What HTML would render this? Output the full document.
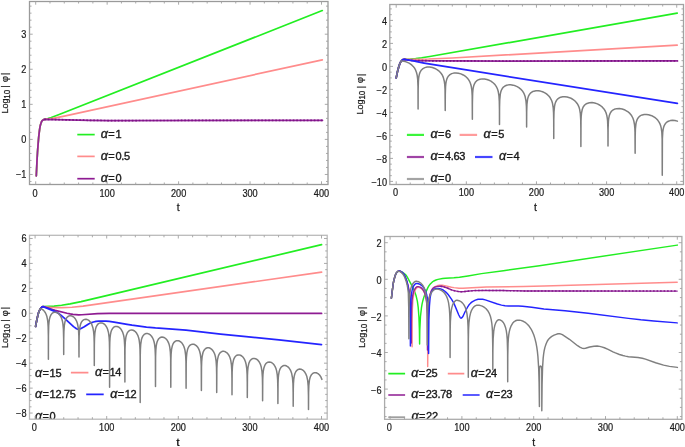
<!DOCTYPE html>
<html><head><meta charset="utf-8"><style>
html,body{margin:0;padding:0;background:#fff;}
svg{display:block;will-change:transform;}
text{font-family:"Liberation Sans", sans-serif;}
.lg{stroke:#1c1c1c;stroke-width:0.38px;}
.tk{stroke:#1c1c1c;stroke-width:0.22px;}
.ax{stroke:#1c1c1c;stroke-width:0.25px;}
</style></head><body>
<svg width="685" height="447" viewBox="0 0 685 447" font-family='"Liberation Sans", sans-serif' fill="#1c1c1c">
<rect width="685" height="447" fill="#fff"/>
<path d="M77.3 134.6H94.7" stroke="#22ee22" stroke-width="1.7"/><text x="100.8" y="137.8" font-size="11" class="lg"><tspan font-style="italic" font-size="12.5">α</tspan><tspan dx="0.4">=</tspan><tspan dx="0.6" letter-spacing="-0.3">1</tspan></text>
<path d="M77.3 156.4H94.7" stroke="#ff8c8c" stroke-width="1.7"/><text x="100.8" y="159.6" font-size="11" class="lg"><tspan font-style="italic" font-size="12.5">α</tspan><tspan dx="0.4">=</tspan><tspan dx="0.6" letter-spacing="-0.3">0.5</tspan></text>
<path d="M77.3 178.7H94.7" stroke="#8e1b92" stroke-width="1.7"/><text x="100.8" y="181.9" font-size="11" class="lg"><tspan font-style="italic" font-size="12.5">α</tspan><tspan dx="0.4">=</tspan><tspan dx="0.6" letter-spacing="-0.3">0</tspan></text>
<path d="M406.9 134.9H424" stroke="#3cf53c" stroke-width="2.2"/><text x="430.4" y="138.1" font-size="11" class="lg"><tspan font-style="italic" font-size="12.5">α</tspan><tspan dx="0.4">=</tspan><tspan dx="0.6" letter-spacing="-0.3">6</tspan></text>
<path d="M459.6 134.9H477.1" stroke="#ff9c9c" stroke-width="2.2"/><text x="483.6" y="138.1" font-size="11" class="lg"><tspan font-style="italic" font-size="12.5">α</tspan><tspan dx="0.4">=</tspan><tspan dx="0.6" letter-spacing="-0.3">5</tspan></text>
<path d="M406.9 157H424" stroke="#a044a6" stroke-width="2.2"/><text x="430.4" y="160.2" font-size="11" class="lg"><tspan font-style="italic" font-size="12.5">α</tspan><tspan dx="0.4">=</tspan><tspan dx="0.6" letter-spacing="-0.3">4.63</tspan></text>
<path d="M475 157H492.5" stroke="#4646ff" stroke-width="2.2"/><text x="498.9" y="160.2" font-size="11" class="lg"><tspan font-style="italic" font-size="12.5">α</tspan><tspan dx="0.4">=</tspan><tspan dx="0.6" letter-spacing="-0.3">4</tspan></text>
<path d="M406.9 179H424" stroke="#a4a4a4" stroke-width="2.2"/><text x="430.4" y="182.2" font-size="11" class="lg"><tspan font-style="italic" font-size="12.5">α</tspan><tspan dx="0.4">=</tspan><tspan dx="0.6" letter-spacing="-0.3">0</tspan></text>
<clipPath id="cb"><rect x="0" y="0" width="685" height="419.2"/></clipPath><g clip-path="url(#cb)">
<text x="35" y="376.6" font-size="11" class="lg"><tspan font-style="italic" font-size="12.5">α</tspan><tspan dx="0.4">=</tspan><tspan dx="0.6" letter-spacing="-0.3">15</tspan></text>
<path d="M70.9 372.7H88.4" stroke="#ff8c8c" stroke-width="1.7"/><text x="94.9" y="375.9" font-size="11" class="lg"><tspan font-style="italic" font-size="12.5">α</tspan><tspan dx="0.4">=</tspan><tspan dx="0.6" letter-spacing="-0.3">14</tspan></text>
<text x="35" y="397.8" font-size="11" class="lg"><tspan font-style="italic" font-size="12.5">α</tspan><tspan dx="0.4">=</tspan><tspan dx="0.6" letter-spacing="-0.3">12.75</tspan></text>
<path d="M86.2 394.4H103.7" stroke="#2424ff" stroke-width="1.7"/><text x="110.2" y="397.6" font-size="11" class="lg"><tspan font-style="italic" font-size="12.5">α</tspan><tspan dx="0.4">=</tspan><tspan dx="0.6" letter-spacing="-0.3">12</tspan></text>
<text x="35" y="419.8" font-size="11" class="lg"><tspan font-style="italic" font-size="12.5">α</tspan><tspan dx="0.4">=</tspan><tspan dx="0.6" letter-spacing="-0.3">0</tspan></text>
<path d="M388.3 373.6H405.1" stroke="#22ee22" stroke-width="1.7"/><text x="411.2" y="376.8" font-size="11" class="lg"><tspan font-style="italic" font-size="12.5">α</tspan><tspan dx="0.4">=</tspan><tspan dx="0.6" letter-spacing="-0.3">25</tspan></text>
<path d="M447.8 373.6H464.3" stroke="#ff8c8c" stroke-width="1.7"/><text x="470.7" y="376.8" font-size="11" class="lg"><tspan font-style="italic" font-size="12.5">α</tspan><tspan dx="0.4">=</tspan><tspan dx="0.6" letter-spacing="-0.3">24</tspan></text>
<path d="M388.3 395.1H405.1" stroke="#8e1b92" stroke-width="1.5"/><text x="411.2" y="398.3" font-size="11" class="lg"><tspan font-style="italic" font-size="12.5">α</tspan><tspan dx="0.4">=</tspan><tspan dx="0.6" letter-spacing="-0.3">23.78</tspan></text>
<path d="M462.7 395.1H479.6" stroke="#2424ff" stroke-width="1.5"/><text x="486.1" y="398.3" font-size="11" class="lg"><tspan font-style="italic" font-size="12.5">α</tspan><tspan dx="0.4">=</tspan><tspan dx="0.6" letter-spacing="-0.3">23</tspan></text>
<path d="M388.3 417.1H405.1" stroke="#7f7f7f" stroke-width="1.2"/><text x="411.5" y="420.3" font-size="11" class="lg"><tspan font-style="italic" font-size="12.5">α</tspan><tspan dx="0.4">=</tspan><tspan dx="0.6" letter-spacing="-0.3">22</tspan></text>
</g>
<rect x="29.5" y="1.5" width="298.5" height="183" fill="none" stroke="#9a9a9a" stroke-width="1.3"/>
<path d="M35.7 184.5v-3.2M35.7 1.5v3.2M49.99 184.5v-2M49.99 1.5v2M64.28 184.5v-2M64.28 1.5v2M78.57 184.5v-2M78.57 1.5v2M92.86 184.5v-2M92.86 1.5v2M107.15 184.5v-3.2M107.15 1.5v3.2M121.44 184.5v-2M121.44 1.5v2M135.73 184.5v-2M135.73 1.5v2M150.02 184.5v-2M150.02 1.5v2M164.31 184.5v-2M164.31 1.5v2M178.6 184.5v-3.2M178.6 1.5v3.2M192.89 184.5v-2M192.89 1.5v2M207.18 184.5v-2M207.18 1.5v2M221.47 184.5v-2M221.47 1.5v2M235.76 184.5v-2M235.76 1.5v2M250.05 184.5v-3.2M250.05 1.5v3.2M264.34 184.5v-2M264.34 1.5v2M278.63 184.5v-2M278.63 1.5v2M292.92 184.5v-2M292.92 1.5v2M307.21 184.5v-2M307.21 1.5v2M321.5 184.5v-3.2M321.5 1.5v3.2M29.5 181.48h2M328 181.48h-2M29.5 174.47h3.2M328 174.47h-3.2M29.5 167.46h2M328 167.46h-2M29.5 160.44h2M328 160.44h-2M29.5 153.43h2M328 153.43h-2M29.5 146.41h2M328 146.41h-2M29.5 139.4h3.2M328 139.4h-3.2M29.5 132.39h2M328 132.39h-2M29.5 125.37h2M328 125.37h-2M29.5 118.36h2M328 118.36h-2M29.5 111.34h2M328 111.34h-2M29.5 104.33h3.2M328 104.33h-3.2M29.5 97.32h2M328 97.32h-2M29.5 90.3h2M328 90.3h-2M29.5 83.29h2M328 83.29h-2M29.5 76.27h2M328 76.27h-2M29.5 69.26h3.2M328 69.26h-3.2M29.5 62.25h2M328 62.25h-2M29.5 55.23h2M328 55.23h-2M29.5 48.22h2M328 48.22h-2M29.5 41.2h2M328 41.2h-2M29.5 34.19h3.2M328 34.19h-3.2M29.5 27.18h2M328 27.18h-2M29.5 20.16h2M328 20.16h-2M29.5 13.15h2M328 13.15h-2M29.5 6.13h2M328 6.13h-2" stroke="#a0a0a0" stroke-width="0.9" fill="none"/>
<path d="M36.3 175.9 L37.45 152.75 L38.44 139.94 L39.14 132.89 L39.97 126.98 L40.87 123.47 L41.85 121.15 L42.42 120.46 L43.15 119.95 L44.3 119.3 L47.8 118.55 L51.3 117.46 L59.8 114.25 L322.3 10.57" fill="none" stroke="#22ee22" stroke-width="1.7" stroke-linejoin="round" stroke-linecap="round"/>
<path d="M36.3 175.9 L36.98 160.67 L37.65 149.95 L38.69 137.11 L39.64 129.04 L40.28 125.55 L41.41 121.99 L41.85 121.15 L42.42 120.46 L44.3 119.3 L48.8 118.93 L52.8 118.39 L64.3 116.13 L322.3 59.8" fill="none" stroke="#ff8c8c" stroke-width="1.7" stroke-linejoin="round" stroke-linecap="round"/>
<path d="M36.3 175.9 L36.98 160.67 L37.65 149.95 L38.69 137.11 L39.64 129.04 L40.28 125.55 L41.41 121.99 L41.85 121.15 L42.42 120.46 L44.3 119.3 L89.78 120.34 L108.9 120.56 L322.5 120.3" fill="none" stroke="#93289b" stroke-width="1.7" stroke-linejoin="round" stroke-linecap="round"/>
<path d="M44.3 119.3 L89.78 120.34 L108.9 120.56 L322.5 120.3" fill="none" stroke="#7c1284" stroke-width="1.7" stroke-linejoin="round" stroke-dasharray="1.6 1.9" stroke-linecap="butt"/>
<rect x="389.8" y="4.5" width="293.7" height="180" fill="none" stroke="#a2a2a2" stroke-width="1.3"/>
<path d="M396.2 184.5v-3.2M396.2 4.5v3.2M410.23 184.5v-2M410.23 4.5v2M424.25 184.5v-2M424.25 4.5v2M438.28 184.5v-2M438.28 4.5v2M452.3 184.5v-2M452.3 4.5v2M466.33 184.5v-3.2M466.33 4.5v3.2M480.36 184.5v-2M480.36 4.5v2M494.38 184.5v-2M494.38 4.5v2M508.41 184.5v-2M508.41 4.5v2M522.43 184.5v-2M522.43 4.5v2M536.46 184.5v-3.2M536.46 4.5v3.2M550.49 184.5v-2M550.49 4.5v2M564.51 184.5v-2M564.51 4.5v2M578.54 184.5v-2M578.54 4.5v2M592.56 184.5v-2M592.56 4.5v2M606.59 184.5v-3.2M606.59 4.5v3.2M620.62 184.5v-2M620.62 4.5v2M634.64 184.5v-2M634.64 4.5v2M648.67 184.5v-2M648.67 4.5v2M662.69 184.5v-2M662.69 4.5v2M676.72 184.5v-3.2M676.72 4.5v3.2M389.8 181.4h3.2M683.5 181.4h-3.2M389.8 175.65h2M683.5 175.65h-2M389.8 169.9h2M683.5 169.9h-2M389.8 164.15h2M683.5 164.15h-2M389.8 158.4h3.2M683.5 158.4h-3.2M389.8 152.65h2M683.5 152.65h-2M389.8 146.9h2M683.5 146.9h-2M389.8 141.15h2M683.5 141.15h-2M389.8 135.4h3.2M683.5 135.4h-3.2M389.8 129.65h2M683.5 129.65h-2M389.8 123.9h2M683.5 123.9h-2M389.8 118.15h2M683.5 118.15h-2M389.8 112.4h3.2M683.5 112.4h-3.2M389.8 106.65h2M683.5 106.65h-2M389.8 100.9h2M683.5 100.9h-2M389.8 95.15h2M683.5 95.15h-2M389.8 89.4h3.2M683.5 89.4h-3.2M389.8 83.65h2M683.5 83.65h-2M389.8 77.9h2M683.5 77.9h-2M389.8 72.15h2M683.5 72.15h-2M389.8 66.4h3.2M683.5 66.4h-3.2M389.8 60.65h2M683.5 60.65h-2M389.8 54.9h2M683.5 54.9h-2M389.8 49.15h2M683.5 49.15h-2M389.8 43.4h3.2M683.5 43.4h-3.2M389.8 37.65h2M683.5 37.65h-2M389.8 31.9h2M683.5 31.9h-2M389.8 26.15h2M683.5 26.15h-2M389.8 20.4h3.2M683.5 20.4h-3.2M389.8 14.65h2M683.5 14.65h-2M389.8 8.9h2M683.5 8.9h-2" stroke="#a0a0a0" stroke-width="0.9" fill="none"/>
<path d="M396.2 77.9 L397.52 71.36 L398.71 66.94 L399.6 64.25 L400.3 62.6 L401.06 61.38 L402.18 60.07 L403.13 59.48 L404.2 59.3 L410.2 59.04 L415.7 58.56 L421.7 57.76 L429.7 56.47 L677.2 13.19" fill="none" stroke="#22ee22" stroke-width="1.7" stroke-linejoin="round" stroke-linecap="round"/>
<path d="M396.2 77.9 L397.64 70.91 L398.85 66.48 L399.94 63.38 L400.8 61.76 L402.18 60.07 L402.8 59.6 L404.2 59.3 L428.7 58.98 L452.2 58.01 L677.2 45.2" fill="none" stroke="#ff8c8c" stroke-width="1.7" stroke-linejoin="round" stroke-linecap="round"/>
<path d="M396.2 77.9 L397.64 70.91 L398.85 66.48 L399.94 63.38 L400.8 61.76 L402.18 60.07 L402.8 59.6 L404.2 59.3 L409.34 60.23 L414.18 60.58 L443.58 60.91 L504.77 61.03 L677.5 60.9" fill="none" stroke="#93289b" stroke-width="1.7" stroke-linejoin="round" stroke-linecap="round"/>
<path d="M404.2 59.3 L409.34 60.23 L414.18 60.58 L443.58 60.91 L504.77 61.03 L677.5 60.9" fill="none" stroke="#7c1284" stroke-width="1.7" stroke-linejoin="round" stroke-dasharray="1.6 1.9" stroke-linecap="butt"/>
<path d="M396.2 77.9 L397.64 70.91 L398.85 66.48 L399.94 63.38 L400.8 61.76 L402.18 60.07 L402.8 59.6 L404.2 59.3 L412.3 60.67 L419.19 62.14 L424.09 63.04 L457 68.46 L677.4 103.3" fill="none" stroke="#2424ff" stroke-width="1.7" stroke-linejoin="round" stroke-linecap="round"/>
<path d="M396.2 77.9 L397.3 72.3 L398.85 66.48 L400.12 62.97 L401.6 60.7 L402 61.1 L404.05 61.34 L406.15 61.87 L409.1 63.16 L410.6 64.1 L411.95 65.17 L413.2 66.41 L414.25 67.74 L415.55 69.98 L416.5 72.46 L417.2 75.45 L417.65 78.99 L418 86.55 L418.1 109 L418.15 90.03 L418.4 81.17 L418.65 78.21 L419.05 75.59 L419.55 73.61 L420.25 71.83 L421.45 69.96 L422.95 68.59 L424.85 67.61 L427.1 67.09 L429.65 67.06 L432.35 67.53 L434.95 68.45 L437.4 69.8 L438.75 70.81 L439.95 71.93 L441 73.15 L441.9 74.46 L442.65 75.84 L443.3 77.4 L444.25 80.94 L444.75 84.59 L445.05 89.53 L445.23 110.6 L445.3 94.29 L445.55 86.78 L445.8 83.97 L446.2 81.42 L446.75 79.32 L447.45 77.62 L448.55 75.93 L449.95 74.61 L451.7 73.65 L453.7 73.1 L456 72.94 L458.45 73.22 L460.9 73.9 L463.25 74.96 L464.8 75.92 L466.2 77.02 L467.45 78.26 L468.55 79.65 L469.45 81.12 L470.2 82.72 L470.8 84.45 L471.3 86.47 L471.9 90.74 L472.2 96.05 L472.36 119.3 L472.4 102.99 L472.65 93.19 L472.9 90.16 L473.25 87.76 L473.7 85.83 L474.3 84.14 L475.3 82.35 L476.55 80.96 L478.15 79.88 L480 79.2 L482.15 78.88 L484.5 78.97 L486.9 79.46 L489.25 80.32 L490.95 81.21 L492.5 82.26 L493.9 83.47 L495.15 84.87 L496.2 86.38 L497.05 88 L497.75 89.8 L498.3 91.79 L498.95 95.85 L499.3 101.12 L499.45 108.9 L499.49 124.4 L499.55 106.91 L499.75 99.66 L500.3 94.13 L500.75 92.05 L501.35 90.26 L502.25 88.54 L503.45 87.1 L504.9 86.02 L506.6 85.28 L508.6 84.87 L510.75 84.82 L513.05 85.14 L515.35 85.82 L517.15 86.62 L518.85 87.63 L520.35 88.78 L521.7 90.1 L522.85 91.57 L523.8 93.15 L524.6 94.94 L525.2 96.8 L526 101.08 L526.4 106.31 L526.55 112.04 L526.62 127 L526.7 111.41 L526.95 104.42 L527.55 99.4 L528.05 97.39 L528.65 95.8 L529.6 94.15 L530.8 92.83 L532.25 91.82 L533.95 91.14 L535.95 90.77 L538.1 90.76 L540.35 91.11 L542.6 91.8 L544.45 92.64 L546.15 93.67 L547.7 94.9 L549.05 96.28 L550.2 97.82 L551.15 99.51 L551.9 101.33 L552.5 103.39 L553.2 107.61 L553.55 112.72 L553.7 119.64 L553.75 138.4 L553.8 119.67 L554 111.71 L554.5 106.36 L554.95 104.13 L555.5 102.39 L556.4 100.57 L557.55 99.11 L559 97.97 L560.7 97.18 L562.7 96.74 L564.9 96.67 L567.2 96.98 L569.55 97.66 L571.45 98.5 L573.2 99.54 L574.75 100.75 L576.15 102.18 L577.3 103.7 L578.25 105.38 L579.05 107.32 L579.65 109.4 L580.35 113.73 L580.7 119.17 L580.85 128.12 L580.88 146.5 L581 121.26 L581.2 116.42 L581.55 112.83 L582.3 109.27 L582.8 107.9 L583.4 106.71 L584.15 105.63 L585 104.74 L585.95 104.01 L587.05 103.42 L589.35 102.74 L591.95 102.59 L594.7 102.99 L597.45 103.89 L599.95 105.22 L602.15 106.93 L603.95 108.94 L605.35 111.25 L606.15 113.16 L606.8 115.42 L607.25 117.82 L607.6 120.96 L607.95 130.59 L608.01 146.1 L608.1 128.61 L608.4 121.38 L608.75 118.28 L609.25 115.83 L609.9 113.9 L610.8 112.21 L611.5 111.3 L612.3 110.52 L613.2 109.86 L614.25 109.31 L616.6 108.65 L619.3 108.53 L622.2 109.01 L625.05 110.03 L627.65 111.53 L629.85 113.42 L631.55 115.55 L632.85 117.98 L633.8 120.81 L634.45 124.24 L634.8 127.83 L635 132.29 L635.14 153.3 L635.2 136.54 L635.4 129.3 L635.95 123.77 L636.4 121.69 L637 119.9 L637.9 118.18 L639.1 116.74 L640.5 115.69 L642.2 114.93 L644.15 114.52 L646.3 114.45 L648.55 114.75 L650.85 115.41 L652.9 116.31 L654.75 117.44 L656.4 118.77 L657.85 120.33 L659.05 122.07 L660 123.95 L660.75 126.08 L661.3 128.42 L661.85 132.69 L662.15 138.99 L662.27 175.2 L662.4 138.64 L662.75 132.23 L663.1 129.58 L663.55 127.54 L664.35 125.33 L665.4 123.59 L666.75 122.22 L668.35 121.24 L670.3 120.6 L672.55 120.36 L674.95 120.55 L677.4 121.14" fill="none" stroke="#7f7f7f" stroke-width="1.5" stroke-linejoin="round" stroke-linecap="round"/>
<rect x="29.5" y="235.3" width="297.7" height="183.9" fill="none" stroke="#bababa" stroke-width="1.3"/>
<path d="M35.1 419.2v-3.2M35.1 235.3v3.2M49.42 419.2v-2M49.42 235.3v2M63.74 419.2v-2M63.74 235.3v2M78.06 419.2v-2M78.06 235.3v2M92.38 419.2v-2M92.38 235.3v2M106.7 419.2v-3.2M106.7 235.3v3.2M121.02 419.2v-2M121.02 235.3v2M135.34 419.2v-2M135.34 235.3v2M149.66 419.2v-2M149.66 235.3v2M163.98 419.2v-2M163.98 235.3v2M178.3 419.2v-3.2M178.3 235.3v3.2M192.62 419.2v-2M192.62 235.3v2M206.94 419.2v-2M206.94 235.3v2M221.26 419.2v-2M221.26 235.3v2M235.58 419.2v-2M235.58 235.3v2M249.9 419.2v-3.2M249.9 235.3v3.2M264.22 419.2v-2M264.22 235.3v2M278.54 419.2v-2M278.54 235.3v2M292.86 419.2v-2M292.86 235.3v2M307.18 419.2v-2M307.18 235.3v2M321.5 419.2v-3.2M321.5 235.3v3.2M29.5 413.06h3.2M327.2 413.06h-3.2M29.5 406.83h2M327.2 406.83h-2M29.5 400.59h2M327.2 400.59h-2M29.5 394.36h2M327.2 394.36h-2M29.5 388.12h3.2M327.2 388.12h-3.2M29.5 381.88h2M327.2 381.88h-2M29.5 375.65h2M327.2 375.65h-2M29.5 369.42h2M327.2 369.42h-2M29.5 363.18h3.2M327.2 363.18h-3.2M29.5 356.94h2M327.2 356.94h-2M29.5 350.71h2M327.2 350.71h-2M29.5 344.48h2M327.2 344.48h-2M29.5 338.24h3.2M327.2 338.24h-3.2M29.5 332h2M327.2 332h-2M29.5 325.77h2M327.2 325.77h-2M29.5 319.54h2M327.2 319.54h-2M29.5 313.3h3.2M327.2 313.3h-3.2M29.5 307.06h2M327.2 307.06h-2M29.5 300.83h2M327.2 300.83h-2M29.5 294.6h2M327.2 294.6h-2M29.5 288.36h3.2M327.2 288.36h-3.2M29.5 282.12h2M327.2 282.12h-2M29.5 275.89h2M327.2 275.89h-2M29.5 269.66h2M327.2 269.66h-2M29.5 263.42h3.2M327.2 263.42h-3.2M29.5 257.19h2M327.2 257.19h-2M29.5 250.95h2M327.2 250.95h-2M29.5 244.72h2M327.2 244.72h-2M29.5 238.48h3.2M327.2 238.48h-3.2" stroke="#a0a0a0" stroke-width="0.9" fill="none"/>
<path d="M35.6 326.5 L36.2 323 L37.5 316.85 L38.73 312.23 L39.64 310.1 L40.69 308.36 L41.64 307.25 L42.42 306.77 L43.1 306.6 L54.1 306.04 L61.6 305.23 L70.1 303.84 L81.1 301.55 L108.6 295.15 L321.6 244.67" fill="none" stroke="#22ee22" stroke-width="1.7" stroke-linejoin="round" stroke-linecap="round"/>
<path d="M35.6 326.5 L36.2 323 L37.6 316.41 L38.23 313.83 L38.86 311.86 L39.82 309.76 L40.94 308.01 L42.1 306.9 L43.1 306.6 L52.62 307.48 L57.47 307.69 L62.12 307.72 L72.04 307.24 L83.03 306.15 L321.6 272.1" fill="none" stroke="#ff8c8c" stroke-width="1.7" stroke-linejoin="round" stroke-linecap="round"/>
<path d="M35.6 326.5 L36.2 323 L37.6 316.41 L38.23 313.83 L38.86 311.86 L39.82 309.76 L40.94 308.01 L42.1 306.9 L43.1 306.6 L47.55 307.74 L52.61 309.58 L55.23 310.4 L67.01 313.25 L70.25 313.92 L72.92 314.33 L78.74 314.79 L81.91 314.74 L97.58 313.69 L109.12 313.45 L165.04 313.33 L321.6 313.4" fill="none" stroke="#8e1b92" stroke-width="1.7" stroke-linejoin="round" stroke-linecap="round"/>
<path d="M35.6 326.5 L36.2 323 L37.6 316.41 L38.23 313.83 L38.86 311.86 L39.82 309.76 L40.94 308.01 L42.1 306.9 L43.1 306.6 L54.75 311.38 L56.74 312.34 L58.13 313.17 L60.3 314.72 L64.03 317.81 L73.54 326.63 L76.49 328.71 L77.83 329.24 L79.18 329.21 L80.57 328.72 L84.26 326.72 L88.55 323.93 L90.91 322.85 L93.39 321.99 L96.01 321.42 L98.72 321.12 L102.13 321 L105.98 321.09 L109.25 321.39 L114.1 322.04 L127.12 324.42 L131.98 325.2 L146.45 327.08 L155.46 327.9 L179.2 329.53 L186.01 330.12 L220.62 334.11 L246.13 336.71 L278.91 339.79 L305.9 342.94 L321.5 344.6" fill="none" stroke="#2424ff" stroke-width="1.7" stroke-linejoin="round" stroke-linecap="round"/>
<path d="M35.6 326.5 L36.3 322.52 L38 314.7 L38.73 312.23 L40.2 308.63 L41.1 308.82 L41.95 309.17 L43.6 310.38 L45.05 312.2 L46.2 314.51 L46.95 316.85 L47.5 319.53 L47.9 322.8 L48.15 326.63 L48.35 335.45 L48.4 359.2 L48.45 335.47 L48.7 325.77 L49 322.07 L49.45 319.15 L50.1 316.75 L50.95 314.87 L52.1 313.4 L53.5 312.47 L54.3 312.23 L55.1 312.16 L56.75 312.5 L58.35 313.45 L59.75 314.89 L60.95 316.83 L61.9 319.19 L62.45 321.24 L62.85 323.4 L63.4 329.18 L63.65 339.01 L63.7 354.5 L63.75 339.03 L63.9 331.51 L64.3 325.63 L65 321.63 L65.6 319.77 L66.35 318.26 L67.25 317.1 L68.25 316.31 L69.45 315.82 L70.7 315.74 L72 316.04 L73.3 316.74 L74.2 317.49 L75.05 318.45 L76.45 320.8 L77.5 323.77 L78.2 327.3 L78.6 331.15 L78.85 336.55 L79 356.9 L79.05 342.59 L79.2 335.07 L79.6 329.18 L80.3 325.18 L80.9 323.33 L81.6 321.9 L82.5 320.71 L83.5 319.89 L84.65 319.4 L85.9 319.29 L87.2 319.56 L88.45 320.2 L89.4 320.95 L90.3 321.94 L91.1 323.12 L91.8 324.47 L92.9 327.72 L93.6 331.6 L94 336.3 L94.2 342.33 L94.3 365.5 L94.35 346.14 L94.5 338.62 L94.85 333.2 L95.5 329.14 L96.1 327.14 L96.9 325.46 L97.85 324.21 L98.95 323.36 L100.25 322.9 L101.6 322.89 L103 323.32 L104.3 324.16 L105.25 325.08 L106.15 326.27 L106.95 327.7 L107.6 329.27 L108.55 332.89 L109.15 337.62 L109.4 342.09 L109.55 349.68 L109.6 387.2 L109.65 349.7 L109.8 342.18 L110.05 337.82 L110.4 334.79 L110.95 332.11 L111.65 330.09 L112.8 328.16 L113.5 327.44 L114.3 326.89 L115.15 326.55 L116.05 326.4 L116.95 326.45 L117.9 326.71 L118.8 327.15 L119.7 327.8 L121.25 329.53 L122.5 331.81 L123.45 334.64 L123.95 337.01 L124.35 340.06 L124.75 347.22 L124.9 381.9 L125 349.49 L125.3 342.01 L125.9 337.19 L126.45 334.98 L127.15 333.22 L128.05 331.78 L129.15 330.73 L130.4 330.12 L131.75 329.96 L133.15 330.25 L134.55 331.01 L135.6 331.92 L136.55 333.09 L137.4 334.52 L138.1 336.11 L138.7 338 L139.15 340.01 L139.75 344.73 L140 349.2 L140.15 356.79 L140.2 402.4 L140.25 356.81 L140.4 349.3 L140.7 344.38 L141.4 339.82 L141.9 338.09 L142.55 336.58 L143.3 335.4 L144.2 334.48 L145.25 333.84 L146.35 333.54 L147.7 333.59 L149.05 334.07 L150.35 334.96 L151.55 336.24 L152.55 337.79 L153.35 339.54 L154.05 341.75 L154.55 344.13 L155.1 348.94 L155.4 356.56 L155.5 386.5 L155.6 356.61 L155.8 350.67 L156.2 346.16 L156.55 344.05 L157 342.26 L157.55 340.76 L158.2 339.53 L159 338.5 L159.9 337.74 L160.9 337.26 L161.95 337.07 L163.25 337.21 L164.55 337.74 L165.8 338.65 L166.9 339.86 L167.85 341.34 L168.65 343.1 L169.3 345.12 L169.8 347.4 L170.35 351.84 L170.65 357.9 L170.8 387.2 L170.9 360.16 L171.1 354.22 L171.55 349.35 L172.35 345.65 L172.9 344.2 L173.55 343.01 L174.3 342.05 L175.2 341.3 L176.2 340.82 L177.25 340.63 L178.55 340.76 L179.8 341.27 L181.05 342.16 L182.15 343.35 L183.1 344.81 L183.9 346.52 L184.55 348.49 L185.05 350.68 L185.65 355.4 L185.95 361.45 L186.1 388.3 L186.2 363.72 L186.4 357.78 L186.85 352.91 L187.65 349.21 L188.2 347.76 L188.85 346.57 L189.6 345.61 L190.5 344.86 L191.45 344.39 L192.5 344.19 L193.8 344.31 L195.05 344.8 L196.25 345.63 L197.35 346.78 L198.3 348.19 L199.1 349.83 L199.75 351.7 L200.3 353.98 L200.9 358.38 L201.25 365.01 L201.4 390.4 L201.5 367.28 L201.7 361.34 L202.15 356.47 L202.95 352.77 L203.5 351.32 L204.1 350.2 L204.85 349.22 L205.7 348.48 L206.65 347.99 L207.7 347.75 L208.95 347.83 L210.25 348.3 L211.45 349.1 L212.55 350.22 L213.5 351.58 L214.35 353.27 L215 355.08 L215.55 357.28 L216.15 361.4 L216.5 366.99 L216.65 374.58 L216.7 392.6 L216.85 368.64 L217.1 363.35 L217.5 359.69 L218.25 356.33 L218.8 354.88 L219.4 353.76 L220.15 352.78 L220.95 352.07 L221.85 351.58 L222.85 351.33 L224.1 351.36 L225.4 351.78 L226.6 352.54 L227.75 353.65 L228.7 354.97 L229.55 356.6 L230.25 358.48 L230.8 360.6 L231.45 364.96 L231.8 370.55 L231.95 378.13 L232 394.7 L232.15 372.19 L232.4 366.91 L232.8 363.25 L233.55 359.88 L234.05 358.54 L234.65 357.39 L235.35 356.44 L236.15 355.7 L237 355.2 L237.95 354.91 L239.2 354.89 L240.5 355.25 L241.75 355.98 L242.9 357.04 L243.9 358.37 L244.75 359.93 L245.45 361.72 L246.05 363.93 L246.75 368.52 L247.1 374.1 L247.25 381.69 L247.3 397.6 L247.45 375.75 L247.65 371.18 L248.05 367.14 L248.75 363.77 L249.25 362.34 L249.8 361.2 L250.5 360.18 L251.25 359.42 L252.1 358.85 L253 358.52 L254.3 358.42 L255.6 358.73 L256.85 359.39 L258.05 360.43 L259.05 361.69 L259.95 363.28 L260.7 365.13 L261.3 367.27 L262 371.59 L262.4 377.66 L262.55 385.25 L262.6 400.7 L262.75 379.31 L262.95 374.74 L263.3 371.06 L263.95 367.68 L264.95 365.04 L265.55 364.06 L266.25 363.24 L267.05 362.61 L267.9 362.2 L269.2 361.97 L270.55 362.16 L271.85 362.75 L273.1 363.74 L274.2 365.03 L275.15 366.63 L275.95 368.54 L276.55 370.61 L277.25 374.7 L277.65 379.99 L277.85 388.81 L277.9 403.5 L278.05 382.87 L278.25 378.3 L278.55 375.01 L279.15 371.62 L280 369.1 L281.15 367.23 L281.85 366.53 L282.6 366.02 L283.9 365.58 L285.25 365.58 L286.65 366.04 L287.95 366.89 L289.1 368.06 L290.15 369.62 L291 371.43 L291.7 373.58 L292.5 377.85 L292.95 383.55 L293.15 392.36 L293.2 406.3 L293.3 388.62 L293.45 383.66 L293.75 379.45 L294.2 376.32 L294.85 373.81 L295.75 371.79 L296.9 370.31 L298.15 369.45 L299.55 369.09 L301.05 369.25 L302.5 369.9 L303.85 371 L305.05 372.52 L306.05 374.38 L306.85 376.6 L307.7 380.66 L308.2 386.1 L308.45 395.92 L308.5 409.6 L308.6 392.18 L308.85 385.41 L309.45 380.14 L309.95 378 L310.55 376.33 L311.65 374.47 L313 373.25 L313.8 372.87 L314.6 372.68 L315.45 372.65 L316.3 372.79 L318 373.59 L319.55 375 L320.85 376.92 L321.9 379.36" fill="none" stroke="#7f7f7f" stroke-width="1.5" stroke-linejoin="round" stroke-linecap="round"/>
<rect x="384.6" y="236.5" width="297.3" height="182.8" fill="none" stroke="#ababab" stroke-width="1.3"/>
<path d="M390.1 419.3v-3.2M390.1 236.5v3.2M404.46 419.3v-2M404.46 236.5v2M418.82 419.3v-2M418.82 236.5v2M433.18 419.3v-2M433.18 236.5v2M447.54 419.3v-2M447.54 236.5v2M461.9 419.3v-3.2M461.9 236.5v3.2M476.26 419.3v-2M476.26 236.5v2M490.62 419.3v-2M490.62 236.5v2M504.98 419.3v-2M504.98 236.5v2M519.34 419.3v-2M519.34 236.5v2M533.7 419.3v-3.2M533.7 236.5v3.2M548.06 419.3v-2M548.06 236.5v2M562.42 419.3v-2M562.42 236.5v2M576.78 419.3v-2M576.78 236.5v2M591.14 419.3v-2M591.14 236.5v2M605.5 419.3v-3.2M605.5 236.5v3.2M619.86 419.3v-2M619.86 236.5v2M634.22 419.3v-2M634.22 236.5v2M648.58 419.3v-2M648.58 236.5v2M662.94 419.3v-2M662.94 236.5v2M677.3 419.3v-3.2M677.3 236.5v3.2M384.6 416.55h2M681.9 416.55h-2M384.6 407.4h2M681.9 407.4h-2M384.6 398.25h2M681.9 398.25h-2M384.6 389.1h3.2M681.9 389.1h-3.2M384.6 379.95h2M681.9 379.95h-2M384.6 370.8h2M681.9 370.8h-2M384.6 361.65h2M681.9 361.65h-2M384.6 352.5h3.2M681.9 352.5h-3.2M384.6 343.35h2M681.9 343.35h-2M384.6 334.2h2M681.9 334.2h-2M384.6 325.05h2M681.9 325.05h-2M384.6 315.9h3.2M681.9 315.9h-3.2M384.6 306.75h2M681.9 306.75h-2M384.6 297.6h2M681.9 297.6h-2M384.6 288.45h2M681.9 288.45h-2M384.6 279.3h3.2M681.9 279.3h-3.2M384.6 270.15h2M681.9 270.15h-2M384.6 261h2M681.9 261h-2M384.6 251.85h2M681.9 251.85h-2M384.6 242.7h3.2M681.9 242.7h-3.2" stroke="#a0a0a0" stroke-width="0.9" fill="none"/>
<path d="M391.4 298.2 L392.97 285.27 L393.68 281.08 L395.06 275.93 L395.8 273.99 L396.5 272.81 L397.57 271.65 L398.4 271.1 L399.3 270.9 L400.64 271.35 L402.31 272.16 L404.87 274 L405.9 275 L407.02 276.61 L411.58 285.12 L414.53 291.29 L416.08 295.78 L417.39 301.4 L418.21 307.41 L418.96 317.71 L419.4 330 L419.6 344.1 L419.8 330 L420.47 316.53 L421.47 307.59 L422.11 303.93 L422.9 300.44 L423.77 297.49 L425.12 293.87 L427.75 287.89 L429.02 285.61 L430.29 283.96 L432.13 282.19 L433.77 281.03 L436.04 279.97 L437.99 279.39 L442.55 278.53 L445.37 278.25 L453.88 277.8 L459.45 277.18 L467.9 275.93 L481.48 273.63 L503.4 270.74 L539.44 265.68 L677.3 245.1" fill="none" stroke="#22ee22" stroke-width="1.45" stroke-linejoin="round" stroke-linecap="round"/>
<path d="M391.4 298.2 L392.97 285.27 L393.58 281.6 L394.88 276.47 L395.61 274.43 L396.25 273.18 L397.03 272.17 L397.85 271.43 L398.4 271.1 L399.3 270.9 L401.14 271.76 L402.84 273.18 L404.1 274.8 L405.23 277.04 L407.36 283.1 L408.72 288.27 L409.98 294.68 L410.84 301.38 L411.24 306.86 L411.7 318 L412.1 346.8 L412.14 323.57 L412.34 309.37 L412.82 300.7 L413.22 297.27 L413.7 294.55 L414.46 291.74 L415.38 289.6 L416.5 288.09 L417.1 287.62 L417.7 287.37 L418.46 287.31 L419.42 287.46 L420.3 287.79 L421.14 288.28 L422.7 289.73 L424.02 291.73 L425.26 294.71 L426.22 298.54 L426.86 302.97 L427.3 308.83 L427.54 316.09 L427.66 327.08 L427.7 366.4 L428.1 320 L428.62 307.59 L429.33 298.61 L429.76 295.99 L430.33 293.87 L431.11 291.67 L432.07 289.71 L432.9 288.5 L433.98 287.43 L435.18 286.62 L436.95 285.83 L439.42 285.31 L440.98 285.2 L442.52 285.26 L444.62 285.62 L451.52 287.21 L453.99 287.63 L459 288.17 L462.99 288.3 L476.54 287.46 L486.54 287.05 L523.34 286.44 L544.06 285.96 L677.2 282.2" fill="none" stroke="#ff8c8c" stroke-width="1.45" stroke-linejoin="round" stroke-linecap="round"/>
<path d="M391.4 298.2 L392.97 285.27 L393.58 281.6 L394.88 276.47 L395.61 274.43 L396.25 273.18 L397.03 272.17 L397.85 271.43 L398.4 271.1 L399.3 270.9 L401.14 271.76 L402.83 273.08 L404.1 274.6 L404.98 276.24 L406.71 280.98 L408.11 286.17 L409.37 293.08 L410.19 299.61 L410.62 305.73 L411 318 L411.3 343 L411.38 318 L411.58 308.07 L412.06 300.2 L412.46 296.9 L412.94 294.26 L413.7 291.47 L414.62 289.31 L415.7 287.74 L416.3 287.19 L416.94 286.81 L417.62 286.62 L418.38 286.62 L420.1 287.13 L421.66 288.21 L423.02 289.78 L424.42 292.37 L425.54 295.75 L426.34 299.82 L426.9 305.01 L427.22 311.04 L427.38 317.75 L427.5 350 L427.9 318 L428.39 305.61 L429 299.62 L429.44 296.94 L430.05 294.48 L431.13 291.39 L432.06 289.51 L432.9 288.4 L433.69 287.74 L435.03 287.06 L436.5 286.6 L437.92 286.35 L439.43 286.27 L442.53 286.57 L444.63 287.13 L447.2 288 L451.51 289.83 L454.01 290.61 L457.52 291.39 L461 291.7 L464.45 291.54 L473.47 290.6 L483.36 290.37 L502.05 290.53 L526.2 290.96 L544.06 291.08 L677.2 291.1" fill="none" stroke="#93289b" stroke-width="1.45" stroke-linejoin="round" stroke-linecap="round"/>
<path d="M440.47 286.31 L442.53 286.57 L444.63 287.13 L447.7 288.18 L451.51 289.83 L454.52 290.75 L458.02 291.46 L461 291.7 L464.45 291.54 L473.47 290.6 L483.36 290.37 L502.05 290.53 L526.2 290.96 L544.06 291.08 L677.2 291.1" fill="none" stroke="#84188c" stroke-width="1.45" stroke-linejoin="round" stroke-dasharray="1.6 1.9" stroke-linecap="butt"/>
<path d="M391.4 298.2 L392.97 285.27 L393.58 281.6 L394.88 276.47 L395.61 274.43 L396.25 273.18 L397.3 271.9 L398.4 271.1 L399.3 270.9 L400.77 271.49 L402.17 272.39 L403.49 273.67 L404.55 275.27 L405.41 277.14 L406.89 281.51 L407.95 285.84 L409.04 293.08 L409.61 299.04 L409.96 305.74 L410.2 318 L410.4 345.9 L410.44 319.89 L410.64 305.7 L411.16 296.61 L411.56 293.32 L412.12 290.34 L412.92 287.6 L413.88 285.55 L415 284.17 L415.6 283.76 L416.2 283.54 L417.16 283.52 L418.32 283.7 L419.4 284.04 L420.44 284.55 L422.32 285.97 L423.96 287.95 L425.48 290.82 L426.64 294.37 L427.48 298.75 L428.04 304.22 L428.36 310.93 L428.52 319.63 L428.6 353.6 L428.9 320 L429.41 306.5 L430.12 297.81 L430.97 293.33 L431.5 292 L432.25 290.78 L433.21 289.77 L433.99 289.28 L435.37 288.76 L436.91 288.46 L438.38 288.42 L439.83 288.64 L441.26 289.09 L442.63 289.72 L443.91 290.53 L445.56 291.85 L447.07 293.27 L448.1 294.45 L451.46 299.09 L453.4 302.3 L454.7 305.11 L458.79 315.01 L460.09 317.36 L460.69 318.07 L461 318.2 L461.29 318.15 L461.9 317.71 L463.03 316.26 L464.95 312 L467.37 307.48 L468.89 305.09 L470.61 303.11 L471.76 302.14 L473 301.3 L475.31 300.17 L478.08 299.29 L480.3 299.1 L482.72 299.31 L485.28 299.84 L497.43 304.01 L501.51 305.1 L505.01 305.69 L508.47 305.94 L518.41 305.94 L522.54 306.21 L531.7 307.3 L543.88 309.05 L565 310.8 L588.12 313.28 L628.43 318.39 L640.77 319.84 L653.8 321.07 L677.2 322.9" fill="none" stroke="#2424ff" stroke-width="1.45" stroke-linejoin="round" stroke-linecap="round"/>
<path d="M391.4 298.2 L392.97 285.27 L393.58 281.6 L394.88 276.47 L395.61 274.43 L396.25 273.18 L397.03 272.17 L398.09 271.29 L398.77 271.21 L400.07 271.66 L401.54 272.65 L402.88 274.07 L403.9 275.66 L404.79 277.53 L406.14 281.18 L407.1 284.7 L407.88 288.94 L408.34 293.17 L408.7 306.94 L408.9 338.8 L408.98 313.5 L409.18 303.57 L409.74 294.9 L410.18 291.62 L410.74 288.85 L411.58 286.11 L412.62 283.93 L413.86 282.35 L414.54 281.82 L415.22 281.48 L415.98 281.31 L416.9 281.34 L417.9 281.53 L418.9 281.89 L420.66 283 L422.26 284.66 L423.1 285.9 L423.86 287.32 L425.1 290.68 L426.02 294.88 L426.62 299.87 L426.98 305.83 L427.18 313.6 L427.3 345 L427.38 323.13 L427.7 310.38 L427.98 306.18 L428.38 302.54 L428.94 299.29 L429.62 296.65 L430.66 293.94 L431.98 291.74 L433.5 290.19 L434.34 289.65 L435.18 289.3 L436.1 289.12 L437.18 289.12 L438.42 289.3 L439.62 289.63 L441.78 290.68 L443.74 292.27 L444.82 293.52 L445.82 295.01 L446.66 296.63 L447.42 298.52 L448.06 300.63 L448.58 302.93 L449.34 308.39 L449.74 314.31 L449.98 323.01 L450.1 357.6 L450.18 331.82 L450.38 321.89 L450.9 313.61 L451.3 310.46 L451.78 307.89 L452.54 305.16 L453.46 303.03 L454.54 301.47 L455.74 300.55 L456.38 300.34 L457.1 300.31 L459.1 300.7 L460.82 301.56 L462.38 302.87 L463.42 304.11 L464.38 305.63 L465.18 307.3 L465.9 309.28 L466.5 311.5 L466.98 313.92 L467.66 319.63 L468.02 326.17 L468.22 336.1 L468.3 377.3 L468.38 339.31 L468.58 329.39 L468.94 322.85 L469.62 317.16 L470.66 312.7 L471.34 310.83 L472.1 309.27 L472.98 307.91 L473.94 306.82 L474.78 306.14 L475.7 305.62 L476.66 305.3 L477.62 305.2 L479.18 305.31 L480.74 305.62 L482.22 306.14 L483.62 306.84 L485.86 308.53 L487.74 310.7 L489.26 313.35 L490.46 316.53 L491.22 319.6 L491.78 323.05 L492.18 326.98 L492.46 331.74 L492.74 345.49 L492.8 369.5 L492.88 350.7 L493.16 338.79 L493.72 331.41 L494.16 328.4 L494.72 325.83 L495.52 323.39 L496.48 321.54 L497.56 320.34 L498.16 319.98 L498.76 319.81 L499.56 319.84 L500.36 320.04 L501.92 320.96 L503.32 322.5 L504.52 324.64 L505.52 327.4 L506.28 330.67 L506.84 334.59 L507.24 339.53 L507.6 351.62 L507.7 381.8 L507.78 355.25 L508.06 343.33 L508.34 338.78 L508.74 334.95 L509.3 331.58 L510.02 328.72 L511.14 325.79 L512.58 323.37 L514.26 321.61 L515.18 320.98 L516.18 320.5 L517.18 320.21 L518.18 320.1 L519.5 320.17 L520.82 320.39 L523.3 321.27 L525.66 322.71 L527.62 324.44 L529.42 326.55 L531.06 329.04 L532.54 331.91 L533.82 335.08 L534.94 338.6 L535.9 342.48 L536.74 346.93 L537.38 351.43 L537.9 356.31 L538.66 367.95 L539.1 382.84 L539.4 406.5 L539.48 368.94 L539.76 367.03 L540 366.45 L540.32 366.09 L540.7 366.01 L541.06 366.25 L541.36 366.79 L541.56 367.53 L541.78 370.75 L541.8 410.8 L542.09 383.95 L542.56 367.45 L543.17 358.17 L543.63 354.09 L544.21 350.47 L544.92 347.38 L546.05 344.06 L547.26 341.24 L548.29 339.6 L549.9 337.89 L551.83 336.43 L554.09 335.2 L556.93 334.07 L558.35 333.74 L559.73 333.76 L561.06 334.13 L562.34 334.71 L569.41 339.29 L577.58 345.72 L580.26 347.38 L582.08 348.19 L583.38 348.41 L585.5 348.2 L589.65 346.99 L594 346.2 L597.15 346.08 L599.67 346.36 L601.56 346.84 L604.36 347.79 L608.1 349.4 L612.97 351.83 L615.42 352.91 L619.42 354.45 L622.94 355.54 L625.46 356.14 L628.51 356.67 L637.99 357.54 L642.3 358.2 L645.47 359.11 L655.62 362.74 L663.57 365.12 L669.51 366.36 L677.4 367.4" fill="none" stroke="#7f7f7f" stroke-width="1.45" stroke-linejoin="round" stroke-linecap="round"/>
<text transform="translate(26.4,178.37) scale(0.92,1)" font-size="10" text-anchor="end" class="tk">−1</text>
<text transform="translate(26.4,143.3) scale(0.92,1)" font-size="10" text-anchor="end" class="tk">0</text>
<text transform="translate(26.4,108.23) scale(0.92,1)" font-size="10" text-anchor="end" class="tk">1</text>
<text transform="translate(26.4,73.16) scale(0.92,1)" font-size="10" text-anchor="end" class="tk">2</text>
<text transform="translate(26.4,38.09) scale(0.92,1)" font-size="10" text-anchor="end" class="tk">3</text>
<text transform="translate(35,196.6) scale(0.92,1)" font-size="10" text-anchor="middle" class="tk">0</text>
<text transform="translate(107.15,196.6) scale(0.92,1)" font-size="10" text-anchor="middle" class="tk">100</text>
<text transform="translate(178.6,196.6) scale(0.92,1)" font-size="10" text-anchor="middle" class="tk">200</text>
<text transform="translate(250.05,196.6) scale(0.92,1)" font-size="10" text-anchor="middle" class="tk">300</text>
<text transform="translate(321.5,196.6) scale(0.92,1)" font-size="10" text-anchor="middle" class="tk">400</text>
<text transform="translate(387,185.6) scale(0.92,1)" font-size="10" text-anchor="end" class="tk">−10</text>
<text transform="translate(387,162.6) scale(0.92,1)" font-size="10" text-anchor="end" class="tk">−8</text>
<text transform="translate(387,139.6) scale(0.92,1)" font-size="10" text-anchor="end" class="tk">−6</text>
<text transform="translate(387,116.6) scale(0.92,1)" font-size="10" text-anchor="end" class="tk">−4</text>
<text transform="translate(387,93.6) scale(0.92,1)" font-size="10" text-anchor="end" class="tk">−2</text>
<text transform="translate(387,70.6) scale(0.92,1)" font-size="10" text-anchor="end" class="tk">0</text>
<text transform="translate(387,47.6) scale(0.92,1)" font-size="10" text-anchor="end" class="tk">2</text>
<text transform="translate(387,24.6) scale(0.92,1)" font-size="10" text-anchor="end" class="tk">4</text>
<text transform="translate(395.5,196.4) scale(0.92,1)" font-size="10" text-anchor="middle" class="tk">0</text>
<text transform="translate(466.33,196.4) scale(0.92,1)" font-size="10" text-anchor="middle" class="tk">100</text>
<text transform="translate(536.46,196.4) scale(0.92,1)" font-size="10" text-anchor="middle" class="tk">200</text>
<text transform="translate(606.59,196.4) scale(0.92,1)" font-size="10" text-anchor="middle" class="tk">300</text>
<text transform="translate(676.72,196.4) scale(0.92,1)" font-size="10" text-anchor="middle" class="tk">400</text>
<text transform="translate(26.5,416.96) scale(0.92,1)" font-size="10" text-anchor="end" class="tk">−8</text>
<text transform="translate(26.5,392.02) scale(0.92,1)" font-size="10" text-anchor="end" class="tk">−6</text>
<text transform="translate(26.5,367.08) scale(0.92,1)" font-size="10" text-anchor="end" class="tk">−4</text>
<text transform="translate(26.5,342.14) scale(0.92,1)" font-size="10" text-anchor="end" class="tk">−2</text>
<text transform="translate(26.5,317.2) scale(0.92,1)" font-size="10" text-anchor="end" class="tk">0</text>
<text transform="translate(26.5,292.26) scale(0.92,1)" font-size="10" text-anchor="end" class="tk">2</text>
<text transform="translate(26.5,267.32) scale(0.92,1)" font-size="10" text-anchor="end" class="tk">4</text>
<text transform="translate(26.5,242.38) scale(0.92,1)" font-size="10" text-anchor="end" class="tk">6</text>
<text transform="translate(34.4,431) scale(0.92,1)" font-size="10" text-anchor="middle" class="tk">0</text>
<text transform="translate(106.7,431) scale(0.92,1)" font-size="10" text-anchor="middle" class="tk">100</text>
<text transform="translate(178.3,431) scale(0.92,1)" font-size="10" text-anchor="middle" class="tk">200</text>
<text transform="translate(249.9,431) scale(0.92,1)" font-size="10" text-anchor="middle" class="tk">300</text>
<text transform="translate(321.5,431) scale(0.92,1)" font-size="10" text-anchor="middle" class="tk">400</text>
<text transform="translate(381.6,393.7) scale(0.92,1)" font-size="10" text-anchor="end" class="tk">−6</text>
<text transform="translate(381.6,357.1) scale(0.92,1)" font-size="10" text-anchor="end" class="tk">−4</text>
<text transform="translate(381.6,320.5) scale(0.92,1)" font-size="10" text-anchor="end" class="tk">−2</text>
<text transform="translate(381.6,283.9) scale(0.92,1)" font-size="10" text-anchor="end" class="tk">0</text>
<text transform="translate(381.6,247.3) scale(0.92,1)" font-size="10" text-anchor="end" class="tk">2</text>
<text transform="translate(389.4,431) scale(0.92,1)" font-size="10" text-anchor="middle" class="tk">0</text>
<text transform="translate(461.9,431) scale(0.92,1)" font-size="10" text-anchor="middle" class="tk">100</text>
<text transform="translate(533.7,431) scale(0.92,1)" font-size="10" text-anchor="middle" class="tk">200</text>
<text transform="translate(605.5,431) scale(0.92,1)" font-size="10" text-anchor="middle" class="tk">300</text>
<text transform="translate(677.3,431) scale(0.92,1)" font-size="10" text-anchor="middle" class="tk">400</text>
<text x="178.3" y="210.8" font-size="10.5" text-anchor="middle" class="ax">t</text>
<text x="535.5" y="210.9" font-size="10.5" text-anchor="middle" class="ax">t</text>
<text x="177.9" y="445.6" font-size="10.5" text-anchor="middle" font-weight="bold">t</text>
<text x="533.7" y="446.1" font-size="10.5" text-anchor="middle" class="ax">t</text>
<g transform="translate(7.9,113.6) rotate(-90)" class="ax"><text x="0" y="0" font-size="9.7" textLength="15.0" lengthAdjust="spacingAndGlyphs">Log</text><text x="14.9" y="2.0" font-size="8.2" textLength="8.9" lengthAdjust="spacingAndGlyphs">10</text><text x="26.2" y="0.3" font-size="8.6">|</text><text x="31.6" y="0" font-size="9.2">φ</text><text x="38.6" y="0.3" font-size="8.6">|</text></g>
<g transform="translate(363.4,114.5) rotate(-90)" class="ax"><text x="0" y="0" font-size="9.7" textLength="15.0" lengthAdjust="spacingAndGlyphs">Log</text><text x="14.9" y="2.0" font-size="8.2" textLength="8.9" lengthAdjust="spacingAndGlyphs">10</text><text x="26.2" y="0.3" font-size="8.6">|</text><text x="31.6" y="0" font-size="9.2">φ</text><text x="38.6" y="0.3" font-size="8.6">|</text></g>
<g transform="translate(7.9,347.9) rotate(-90)" class="ax"><text x="0" y="0" font-size="9.7" textLength="15.0" lengthAdjust="spacingAndGlyphs">Log</text><text x="14.9" y="2.0" font-size="8.2" textLength="8.9" lengthAdjust="spacingAndGlyphs">10</text><text x="26.2" y="0.3" font-size="8.6">|</text><text x="31.6" y="0" font-size="9.2">φ</text><text x="38.6" y="0.3" font-size="8.6">|</text></g>
<g transform="translate(364.5,347.7) rotate(-90)" class="ax"><text x="0" y="0" font-size="9.7" textLength="15.0" lengthAdjust="spacingAndGlyphs">Log</text><text x="14.9" y="2.0" font-size="8.2" textLength="8.9" lengthAdjust="spacingAndGlyphs">10</text><text x="26.2" y="0.3" font-size="8.6">|</text><text x="31.6" y="0" font-size="9.2">φ</text><text x="38.6" y="0.3" font-size="8.6">|</text></g>
</svg>
</body></html>
